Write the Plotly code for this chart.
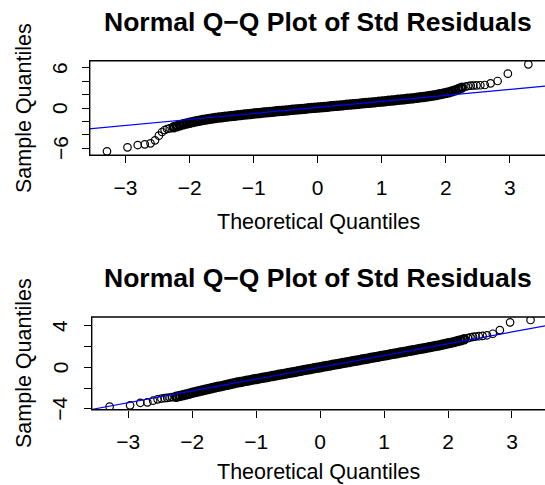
import plotly.graph_objects as go

# ---------------- data ----------------
TITLE = "Normal Q\u2212Q Plot of Std Residuals"
X_TITLE = "Theoretical Quantiles"
Y_TITLE = "Sample Quantiles"

# theoretical quantiles of the isolated tail points
THEO_LOWER = [-3.29, -2.97, -2.81, -2.70, -2.61, -2.54, -2.48, -2.43, -2.39, -2.35, -2.31]
THEO_UPPER = [2.31, 2.35, 2.39, 2.43, 2.48, 2.54, 2.61, 2.70, 2.81, 2.97, 3.29]
# theoretical quantiles along the dense middle band
THEO_MID = [-2.25, -2.2, -2.15, -2.1, -2.05, -2.0, -1.95, -1.9, -1.85, -1.8,
            -1.75, -1.7, -1.65, -1.6, -1.55, -1.5, -1.45, -1.4, -1.35, -1.3,
            -1.25, -1.2, -1.15, -1.1, -1.05, -1.0, -0.95, -0.9, -0.85, -0.8,
            -0.75, -0.7, -0.65, -0.6, -0.55, -0.5, -0.45, -0.4, -0.35, -0.3,
            -0.25, -0.2, -0.15, -0.1, -0.05, 0.0, 0.05, 0.1, 0.15, 0.2,
            0.25, 0.3, 0.35, 0.4, 0.45, 0.5, 0.55, 0.6, 0.65, 0.7,
            0.75, 0.8, 0.85, 0.9, 0.95, 1.0, 1.05, 1.1, 1.15, 1.2,
            1.25, 1.3, 1.35, 1.4, 1.45, 1.5, 1.55, 1.6, 1.65, 1.7,
            1.75, 1.8, 1.85, 1.9, 1.95, 2.0, 2.05, 2.1, 2.15, 2.2, 2.25]

# panel 1 sample quantiles
TOP_LOWER = [-6.5, -5.9, -5.55, -5.45, -5.3, -4.85, -4.15, -3.6, -3.3, -3.15, -3.05]
TOP_MID = [-2.9, -2.75, -2.6, -2.45, -2.32, -2.2, -2.1, -2.0, -1.9, -1.8,
           -1.72, -1.65, -1.57, -1.5, -1.44, -1.38, -1.32, -1.26, -1.2, -1.15,
           -1.1, -1.04, -0.99, -0.94, -0.89, -0.84, -0.79, -0.74, -0.69, -0.64,
           -0.6, -0.55, -0.5, -0.46, -0.41, -0.37, -0.32, -0.28, -0.23, -0.19,
           -0.14, -0.1, -0.05, -0.01, 0.03, 0.07, 0.11, 0.16, 0.2, 0.25,
           0.29, 0.34, 0.38, 0.43, 0.47, 0.52, 0.56, 0.61, 0.65, 0.7,
           0.74, 0.79, 0.83, 0.88, 0.92, 0.97, 1.02, 1.07, 1.12, 1.17,
           1.22, 1.27, 1.32, 1.37, 1.42, 1.48, 1.54, 1.6, 1.66, 1.73,
           1.8, 1.88, 1.96, 2.05, 2.15, 2.25, 2.37, 2.5, 2.65, 2.85, 3.05]
TOP_UPPER = [3.2, 3.3, 3.35, 3.37, 3.39, 3.41, 3.45, 3.7, 4.05, 5.15, 6.55]
TOP_LINE = {"intercept": 0.08, "slope": 0.9}

# panel 2 sample quantiles
BOT_LOWER = [-3.81, -3.68, -3.43, -3.39, -3.23, -3.1, -3.02, -2.98, -2.95, -2.92, -2.88]
BOT_MID = [-2.84, -2.78, -2.71, -2.63, -2.55, -2.47, -2.39, -2.31, -2.24, -2.17,
           -2.1, -2.03, -1.96, -1.89, -1.82, -1.75, -1.68, -1.61, -1.54, -1.48,
           -1.42, -1.36, -1.3, -1.24, -1.18, -1.13, -1.07, -1.01, -0.96, -0.9,
           -0.84, -0.79, -0.73, -0.67, -0.62, -0.56, -0.5, -0.45, -0.39, -0.33,
           -0.27, -0.22, -0.16, -0.1, -0.05, 0.01, 0.07, 0.12, 0.18, 0.24,
           0.29, 0.35, 0.41, 0.46, 0.52, 0.58, 0.63, 0.69, 0.75, 0.8,
           0.86, 0.92, 0.97, 1.03, 1.09, 1.14, 1.2, 1.26, 1.31, 1.37,
           1.43, 1.48, 1.54, 1.6, 1.65, 1.71, 1.77, 1.83, 1.88, 1.94,
           2.0, 2.06, 2.12, 2.18, 2.25, 2.32, 2.39, 2.46, 2.54, 2.62, 2.71]
BOT_UPPER = [2.82, 2.9, 2.95, 2.98, 3.01, 3.04, 3.1, 3.25, 3.6, 4.35, 4.58]
BOT_LINE = {"intercept": 0.0, "slope": 1.14}

X_TICKS = [-3, -2, -1, 0, 1, 2, 3]
X_TICKTEXT = ["\u22123", "\u22122", "\u22121", "0", "1", "2", "3"]
TOP_Y_TICKS = [-6, -4, -2, 0, 2, 4, 6]
TOP_Y_LABELS = {-6: "\u22126", 0: "0", 6: "6"}
BOT_Y_TICKS = [-4, -2, 0, 2, 4]
BOT_Y_LABELS = {-4: "\u22124", 0: "0", 4: "4"}

# ---------------- layout helpers ----------------
W, H = 545, 485
FONT = "Liberation Sans, Arial, Helvetica, sans-serif"


def px(x):
    return x / W


def py(y):
    return 1 - y / H


fig = go.Figure()

panels = [
    dict(lower=TOP_LOWER, mid=TOP_MID, upper=TOP_UPPER, line=TOP_LINE,
         xa="x", ya="y"),
    dict(lower=BOT_LOWER, mid=BOT_MID, upper=BOT_UPPER, line=BOT_LINE,
         xa="x2", ya="y2"),
]

for p in panels:
    # dense middle band: heavily overplotted circles look like a solid band
    fig.add_trace(go.Scatter(
        x=THEO_MID, y=p["mid"], mode="markers", xaxis=p["xa"], yaxis=p["ya"],
        marker=dict(symbol="circle-open", size=7.5, color="black",
                    line=dict(width=3, color="black")),
        showlegend=False, hoverinfo="skip"))
    # sparse tails
    fig.add_trace(go.Scatter(
        x=THEO_LOWER + THEO_UPPER, y=p["lower"] + p["upper"], mode="markers",
        xaxis=p["xa"], yaxis=p["ya"],
        marker=dict(symbol="circle-open", size=7.5, color="black",
                    line=dict(width=1.2, color="black")),
        showlegend=False, hoverinfo="skip"))
    lx = [-5, 5]
    ly = [p["line"]["intercept"] + p["line"]["slope"] * v for v in lx]
    fig.add_trace(go.Scatter(
        x=lx, y=ly, mode="lines", xaxis=p["xa"], yaxis=p["ya"],
        line=dict(color="#0000FF", width=1.2),
        showlegend=False, hoverinfo="skip"))

axis_common = dict(showgrid=False, zeroline=False, showline=False,
                   ticks="outside", ticklen=7, tickwidth=1.3, tickcolor="black",
                   tickfont=dict(family=FONT, size=21, color="black"),
                   tickmode="array")

# top panel box: x 89.7 .. 545.5, y 60.7 .. 155.3
# bottom panel box: x 91.7 .. 548.5, y 317 .. 409.7
fig.update_layout(
    width=W, height=H,
    margin=dict(l=0, r=0, t=0, b=0),
    paper_bgcolor="white", plot_bgcolor="white",
    xaxis=dict(domain=[px(89.7), 1.0], range=[-3.56, 3.55], anchor="y",
               tickvals=X_TICKS, ticktext=X_TICKTEXT, ticklabelstandoff=6,
               **axis_common),
    yaxis=dict(domain=[py(155.3), py(60.7)], range=[-7.09, 7.09], anchor="x",
               tickvals=TOP_Y_TICKS, showticklabels=False, **axis_common),
    xaxis2=dict(domain=[px(91.7), 1.0], range=[-3.57, 3.516], anchor="y2",
                tickvals=X_TICKS, ticktext=X_TICKTEXT, ticklabelstandoff=6,
                **axis_common),
    yaxis2=dict(domain=[py(409.7), py(317)], range=[-4.1, 4.87], anchor="x2",
                tickvals=BOT_Y_TICKS, showticklabels=False, **axis_common),
)

# y tick labels, parallel to the axis (R style)
for yref, labels in [("y", TOP_Y_LABELS), ("y2", BOT_Y_LABELS)]:
    for val, txt in labels.items():
        fig.add_annotation(text=txt, xref="paper", yref=yref, x=px(60), y=val,
                           xanchor="center", yanchor="middle", textangle=-90,
                           showarrow=False,
                           font=dict(family=FONT, size=21, color="black"))

# plot boxes (right edge lies outside the picture)
for xr, yr in [("x domain", "y domain"), ("x2 domain", "y2 domain")]:
    fig.add_shape(type="rect", xref=xr, yref=yr, x0=0, x1=1.05, y0=0, y1=1,
                  line=dict(color="black", width=1.4), layer="above")

# titles and axis titles
for title_y, ylab_y in [(22, 108), (278, 363)]:
    fig.add_annotation(text=TITLE, xref="paper", yref="paper",
                       x=px(318), y=py(title_y), xanchor="center", yanchor="middle",
                       showarrow=False,
                       font=dict(family=FONT, size=26.5, color="black", weight="bold"))
    fig.add_annotation(text=Y_TITLE, xref="paper", yref="paper",
                       x=px(24), y=py(ylab_y), xanchor="center", yanchor="middle",
                       textangle=-90, showarrow=False,
                       font=dict(family=FONT, size=21.5, color="black"))

fig.add_annotation(text=X_TITLE, xref="paper", yref="paper",
                   x=px(318.5), y=py(222.5), xanchor="center", yanchor="middle",
                   showarrow=False, font=dict(family=FONT, size=21.5, color="black"))
# bottom x-axis title sits right at the lower edge of the picture
fig.add_annotation(text=X_TITLE, xref="paper", yref="paper",
                   x=px(318.5), y=py(484.5), xanchor="center", yanchor="bottom",
                   borderpad=0, showarrow=False,
                   font=dict(family=FONT, size=21.5, color="black"))

fig.write_html("out.html")
